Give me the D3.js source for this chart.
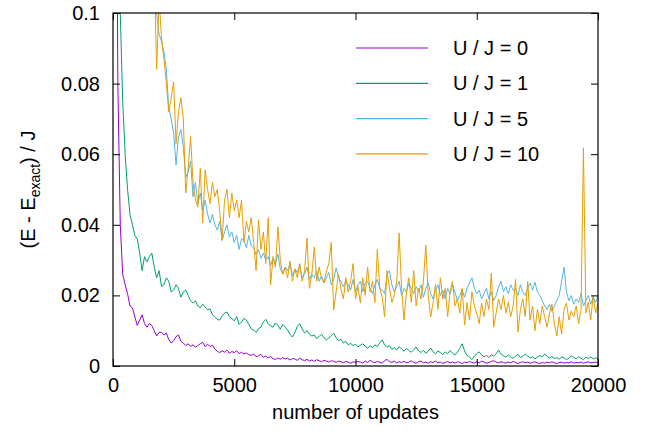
<!DOCTYPE html>
<html>
<head>
<meta charset="utf-8">
<script src="https://cdn.jsdelivr.net/npm/d3@7"></script>
<style>
  html, body { margin: 0; padding: 0; background: #fff; }
  svg text { font-family: 'Liberation Sans', Arial, sans-serif; fill: #000; }
</style>
</head>
<body>
<svg id="chart" width="653" height="437"></svg>
<script>
// values are in units of 1e-3 J, one sample every 100 updates
const yUnit = 1e-3

// U/J = 0, updates 100 .. 20000
const u0 = [
  200, 80, 40, 26, 23, 20.5, 17, 16.5, 14, 11.5,
  13, 14.5, 12, 11, 12, 11.5, 10, 8.5, 9.5, 9.5,
  8.8, 9.3, 7.5, 6.5, 7.2, 8.3, 8.8, 7.0, 6.5, 5.8,
  6.3, 5.5, 6.0, 5.3, 5.8, 6.3, 6.7, 5.5, 6.2, 5.5,
  5.9, 4.8, 4.2, 3.8, 4.3, 3.9, 4.5, 3.6, 4.1, 3.8,
  4.3, 3.5, 3.9, 3.4, 3.7, 3.2, 3.0, 3.4, 2.6, 2.9,
  3.3, 2.5, 2.8, 2.3, 2.7, 2.1, 1.8, 2.3, 1.9, 2.4,
  2.0, 2.2, 1.7, 2.1, 2.0, 1.6, 2.2, 1.8, 1.5, 1.9,
  1.4, 1.7, 1.3, 1.8, 1.5, 1.2, 1.6, 1.4, 1.1, 1.5,
  1.3, 1.0, 1.4, 1.2, 0.9, 1.3, 1.1, 0.8, 1.2, 1.0,
  1.3, 1.1, 0.8, 1.4, 1.0, 1.6, 1.2, 0.9, 1.3, 1.1,
  0.8, 1.5, 1.9, 1.2, 1.0, 1.4, 0.9, 1.2, 1.0, 1.3,
  0.9, 1.1, 1.5, 1.0, 0.8, 1.2, 1.4, 0.9, 1.1, 0.8,
  1.2, 1.0, 1.4, 0.9, 1.1, 0.7, 1.0, 1.3, 0.9, 1.1,
  0.8, 1.2, 1.0, 0.7, 1.1, 0.9, 1.3, 1.0, 0.8, 1.2,
  0.9, 1.4, 1.1, 0.8, 1.0, 1.3, 1.5, 1.1, 0.9, 1.2,
  1.0, 0.8, 1.1, 0.9, 1.3, 1.0, 0.7, 1.0, 1.2, 0.9,
  1.1, 0.8, 1.0, 1.2, 0.9, 0.7, 1.0, 0.8, 1.1, 0.9,
  1.2, 0.9, 0.7, 1.0, 1.1, 0.8, 1.0, 0.9, 1.2, 0.8,
  1.0, 0.9, 1.1, 0.8, 1.0, 1.2, 0.9, 1.0, 1.1, 0.9
]

// U/J = 1, updates 100 .. 20000
const u1 = [
  250, 150, 100, 75, 60, 50, 43, 40, 37, 36,
  32, 27, 31, 29.5, 31, 32, 28, 25, 27, 22.5,
  23, 25, 24, 21, 21.5, 23, 22, 19.5, 21, 21.5,
  20, 18.5, 17.8, 18.5, 17, 16.5, 17.5, 16.7, 15.9, 16.2,
  14.5, 13.9, 13.2, 13.0, 14.2, 15.0, 15.3, 14.0, 13.4, 12.8,
  14.0, 11.8, 12.5, 13.5, 13.0, 11.8, 10.5, 10.2, 9.5, 10.6,
  11.0, 12.5, 13.2, 12.0, 11.3, 11.0, 12.2, 11.5, 10.4, 11.8,
  11.0, 10.2, 9.0, 8.2, 9.5, 11.2, 12.0, 10.5, 9.4, 10.0,
  9.0, 8.5, 8.8, 7.8, 8.4, 9.0, 8.0, 7.4, 7.9, 8.6,
  9.3, 8.0, 7.2, 7.6, 6.5, 7.0, 6.0, 6.4, 5.8, 6.2,
  5.4, 5.9, 6.3, 5.6, 5.0, 5.8, 5.2, 6.0, 5.5, 6.6,
  7.4, 6.0, 5.3, 5.8, 4.7, 5.2, 4.5, 5.5, 4.8, 4.2,
  5.0, 4.4, 3.9, 4.6, 5.4, 4.3, 3.8, 4.5, 3.6, 4.2,
  5.1, 4.0, 3.4, 4.3, 3.8, 3.2, 4.0, 3.5, 4.4, 3.7,
  3.1, 3.9, 5.0, 6.3, 4.2, 3.0, 2.6, 1.8, 2.7, 3.5,
  4.0, 3.2, 2.6, 3.0, 2.4, 3.2, 2.8, 3.5, 4.5, 3.4,
  2.9, 2.5, 3.1, 2.6, 2.2, 2.8, 3.3, 2.4, 2.7, 3.4,
  2.8, 2.3, 2.6, 2.0, 2.5, 3.0, 2.6, 3.4, 2.8, 2.2,
  2.7, 2.1, 2.4, 1.9, 2.6, 2.3, 1.8, 2.2, 2.9, 2.4,
  2.0, 2.6, 2.2, 1.8, 2.5, 2.1, 2.6, 2.0, 2.3, 2.1
]

// U/J = 5, updates 1600 .. 20000
const u5 = [
  140, 115, 100, 94, 92, 89, 84, 73, 70, 66,
  57, 65, 67, 62, 53.5, 55, 58, 48, 52, 46,
  49, 44, 47, 43, 40.5, 43, 40, 38.5, 41, 35.5,
  38, 40, 36.5, 38, 35, 37, 33, 36, 35.7, 33.5,
  37, 34, 33.5, 31.5, 33, 30.5, 32, 30, 31, 28.5,
  30.5, 29, 31.7, 27.5, 26, 28, 27, 29, 25.5, 27.5,
  26.5, 28.5, 25, 26, 28, 24.5, 26, 25, 27, 24,
  25.5, 23.5, 25, 26.5, 23, 24.5, 27.8, 25, 24, 22.5,
  24, 23, 21.5, 24.5, 21, 23, 24, 21, 23.5, 24,
  22, 20.5, 23, 24.5, 22, 21.5, 20.5, 26, 27, 23,
  21, 22.5, 24, 20, 22, 21, 23.5, 22, 20.5, 22.5,
  21, 23, 19.5, 22, 23.5, 20.5, 19, 21.5, 23, 20,
  21.5, 19, 22, 20.5, 23, 21, 18.5, 20, 21.5, 19.5,
  22, 23.5, 25, 22, 20.5, 21.5, 19, 20.5, 22, 19,
  21, 18.5, 20, 22.5, 24, 21, 22.5, 20.5, 23, 21.5,
  22, 20, 23, 21, 20, 22, 23.5, 21.5, 23.8, 21,
  20, 18.5, 17, 16, 17.5, 15.5, 17, 18.5, 20, 24,
  28, 21, 18.5, 20, 17.5, 19, 18, 20.5, 17, 18.5,
  20, 17.5, 19.5, 18, 20
]

// U/J = 10, updates 1600 .. 20000
const u10 = [
  140, 112, 84, 104, 93, 87, 80, 72, 76, 80.5,
  63, 72, 76, 70, 49, 56, 65, 52, 47, 45,
  56, 40.5, 55.5, 50, 46, 52, 48, 50, 44, 35.7,
  47, 50, 42, 49, 44, 47, 42, 47, 35, 41,
  38, 42, 35, 27, 41.4, 33, 38, 29, 42, 23,
  31, 28, 39.4, 30, 26, 28, 25, 29.7, 24, 27.5,
  25, 29, 24, 27, 36.3, 22, 26, 33.7, 24, 28,
  25, 23.5, 27, 29, 35, 15.9, 21, 26, 22, 19,
  25, 21, 24, 29, 19, 22.5, 17.8, 25, 20, 28,
  21, 24, 18, 33, 22, 19.5, 13.9, 27, 22, 18,
  20, 24, 37.7, 22, 13, 21, 25, 18, 27, 17,
  22, 19, 24, 34.3, 20, 13.9, 18, 23, 16, 25,
  19, 22, 14, 21, 24, 17, 19, 15, 22, 11.6,
  18, 13, 21, 17, 15, 12, 17.8, 14, 19, 16,
  26.3, 11, 15, 19, 16, 20, 15, 18, 14, 17,
  24.6, 9.6, 16, 19, 14, 24, 13, 17, 10, 16,
  12, 17, 14, 11, 15, 17.5, 12, 8.5, 14, 9,
  16, 17.8, 13, 15.5, 14, 17, 12, 16, 61.8, 15,
  18, 13, 20, 15, 17.8
]

const seriesNames = ['U / J = 0', 'U / J = 1', 'U / J = 5', 'U / J = 10']
const seriesStart = [100, 100, 1600, 1600]
const seriesValues = [u0, u1, u5, u10]
const colors = ['#9400d3', '#009e73', '#56b4e9', '#e69f00']

const xTicks = [0, 5000, 10000, 15000, 20000]
const yTicks = [0, 0.02, 0.04, 0.06, 0.08, 0.1]

const step = 100

// --------------------------------------------------------------
// layout
const margin = { left: 113, right: 55, top: 13, bottom: 71 }
const width = 653
const height = 437
const fontSize = 20

const svg = d3.select('#chart')

const x = d3
  .scaleLinear()
  .domain([0, 20000])
  .range([margin.left, width - margin.right])

const y = d3
  .scaleLinear()
  .domain([0, 0.1])
  .range([height - margin.bottom, margin.top])

// --------------------------------------------------------------
// Lines

svg
  .append('clipPath')
  .attr('id', 'plotClip')
  .append('rect')
  .attr('x', x(0))
  .attr('y', y(0.1))
  .attr('width', x(20000) - x(0))
  .attr('height', y(0) - y(0.1))

const line = d3
  .line()
  .x((d) => x(d.u))
  .y((d) => y(d.e))

const series = seriesValues.map((vals, i) =>
  vals.map((v, j) => ({ u: seriesStart[i] + j * step, e: v * yUnit }))
)

svg
  .append('g')
  .attr('clip-path', 'url(#plotClip)')
  .selectAll('path')
  .data(series)
  .join('path')
  .attr('d', line)
  .attr('fill', 'none')
  .attr('stroke', (d, i) => colors[i])
  .attr('stroke-width', 1)
  .attr('stroke-linejoin', 'round')

// --------------------------------------------------------------
// Axes (ticks on all four sides, labels on left and bottom)

const tickLen = 7

svg
  .append('g')
  .attr('transform', `translate(0,${y(0)})`)
  .call(
    d3
      .axisBottom(x)
      .tickValues(xTicks)
      .tickSize(-tickLen)
      .tickPadding(12)
      .tickFormat(d3.format('d'))
  )
svg
  .append('g')
  .attr('transform', `translate(0,${y(0.1)})`)
  .call(d3.axisTop(x).tickValues(xTicks).tickSize(-tickLen).tickFormat(''))

svg
  .append('g')
  .attr('transform', `translate(${x(0)},0)`)
  .call(
    d3
      .axisLeft(y)
      .tickValues(yTicks)
      .tickSize(-tickLen)
      .tickPadding(13)
      .tickFormat((d) => (d === 0 ? '0' : d3.format('~g')(d)))
  )
svg
  .append('g')
  .attr('transform', `translate(${x(20000)},0)`)
  .call(d3.axisRight(y).tickValues(yTicks).tickSize(-tickLen).tickFormat(''))

svg.selectAll('.domain').remove()
svg.selectAll('.tick line').attr('stroke', '#000')
svg.selectAll('.tick text').attr('font-size', fontSize).attr('font-family', null)

// border
svg
  .append('rect')
  .attr('x', x(0))
  .attr('y', y(0.1))
  .attr('width', x(20000) - x(0))
  .attr('height', y(0) - y(0.1))
  .attr('fill', 'none')
  .attr('stroke', '#000')
  .attr('stroke-width', 1.2)

// --------------------------------------------------------------
// Axis titles

svg
  .append('text')
  .attr('x', (x(0) + x(20000)) / 2)
  .attr('y', 419)
  .attr('text-anchor', 'middle')
  .attr('font-size', fontSize)
  .text('number of updates')

const yTitle = svg
  .append('text')
  .attr('transform', `translate(35,${(y(0) + y(0.1)) / 2}) rotate(-90)`)
  .attr('text-anchor', 'middle')
  .attr('font-size', fontSize)
yTitle.append('tspan').text('(E - E')
yTitle.append('tspan').attr('font-size', 14).attr('dy', 5).text('exact')
yTitle.append('tspan').attr('dy', -5).text(') / J')

// --------------------------------------------------------------
// Legend

const legend = svg
  .append('g')
  .selectAll('g')
  .data(seriesNames)
  .join('g')
  .attr('transform', (d, i) => `translate(0,${48 + i * 35.3})`)

legend
  .append('line')
  .attr('x1', 356)
  .attr('x2', 428)
  .attr('stroke', (d, i) => colors[i])
  .attr('stroke-width', 1.2)

legend
  .append('text')
  .attr('x', 453)
  .attr('dy', '0.35em')
  .attr('font-size', fontSize)
  .text((d) => d)
</script>
</body>
</html>
